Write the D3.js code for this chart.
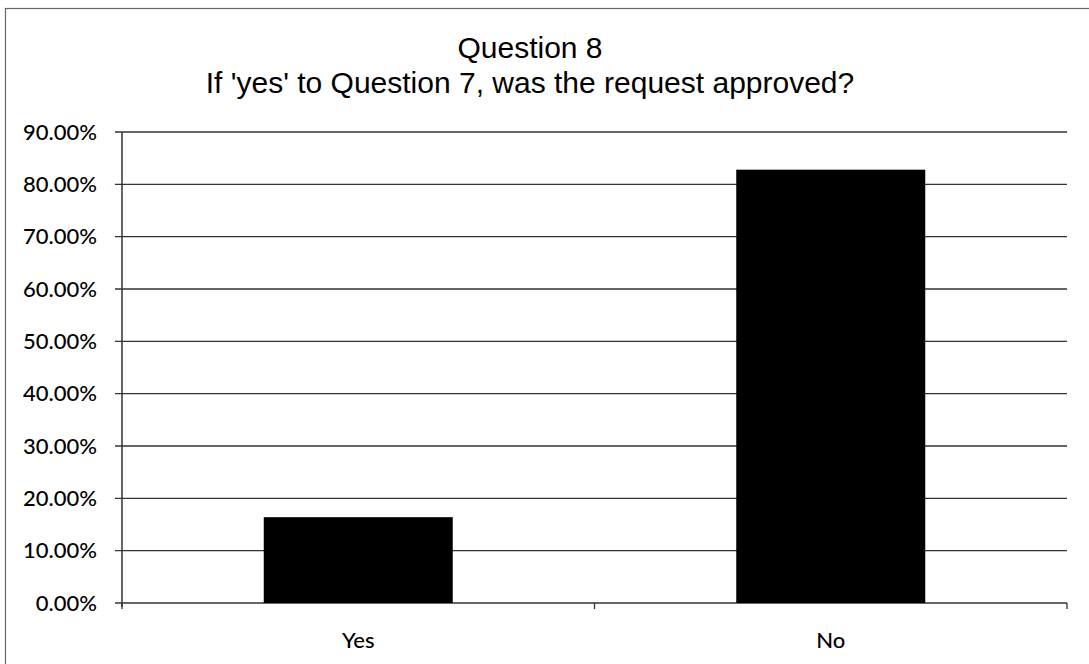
<!DOCTYPE html>
<html><head><meta charset="utf-8">
<script src="https://cdn.jsdelivr.net/npm/d3@7/dist/d3.min.js"></script>
<style>body{margin:0;background:#fff}</style>
</head><body>
<script>
const categories = ["Yes", "No"];
const values = [0.164, 0.828];
const yTicks = [0, 0.1, 0.2, 0.3, 0.4, 0.5, 0.6, 0.7, 0.8, 0.9];
const titleLines = ["Question 8", "If 'yes' to Question 7, was the request approved?"];

const W = 1089, H = 664;
const svg = d3.select("body").append("svg").attr("width", W).attr("height", H);
svg.append("rect").attr("x", 5.5).attr("y", 8.5).attr("width", W + 10).attr("height", H + 10)
  .attr("fill", "none").attr("stroke", "#666").attr("stroke-width", 1.2);

const m = {left: 122, right: 1067, top: 132, bottom: 603};
const x = d3.scaleBand().domain(categories).range([m.left, m.right]).paddingInner(0.6).paddingOuter(0.3);
const xEdge = d3.scaleBand().domain(categories).range([m.left, m.right]);
const y = d3.scaleLinear().domain([0, 0.9]).range([m.bottom, m.top]);

svg.append("g").selectAll("line").data(yTicks).join("line")
  .attr("x1", m.left - 7).attr("x2", m.right).attr("y1", d => y(d)).attr("y2", d => y(d))
  .attr("stroke", "#333").attr("stroke-width", 1.3);

svg.append("g").selectAll("rect").data(values).join("rect")
  .attr("x", (d, i) => x(categories[i])).attr("width", x.bandwidth())
  .attr("y", d => y(d)).attr("height", d => y(0) - y(d)).attr("fill", "#000");

svg.append("line").attr("x1", m.left).attr("x2", m.left).attr("y1", m.top).attr("y2", m.bottom + 4)
  .attr("stroke", "#333").attr("stroke-width", 1.5);
const xt = [m.left, xEdge(categories[1]), m.right];
svg.append("g").selectAll("line").data(xt).join("line")
  .attr("x1", d => d).attr("x2", d => d).attr("y1", m.bottom).attr("y2", m.bottom + 6)
  .attr("stroke", "#333").attr("stroke-width", 1.3);

svg.append("g").selectAll("text").data(yTicks).join("text")
  .attr("x", 97).attr("y", d => y(d)).attr("dy", "0.35em").attr("text-anchor", "end")
  .attr("font-family", "Lato, sans-serif").attr("font-size", 22).attr("font-weight", 500)
  .attr("fill", "#000").text(d => d3.format(".2%")(d));

svg.append("g").selectAll("text").data(categories).join("text")
  .attr("x", d => x(d) + x.bandwidth() / 2).attr("y", 648).attr("text-anchor", "middle")
  .attr("font-family", "Lato, sans-serif").attr("font-size", 22).attr("font-weight", 500)
  .attr("fill", "#000").text(d => d);

svg.append("g").selectAll("text").data(titleLines).join("text")
  .attr("x", 530).attr("y", (d, i) => 58 + i * 35).attr("text-anchor", "middle")
  .attr("font-family", "Liberation Sans, Arial, sans-serif").attr("font-size", 30)
  .attr("fill", "#000").text(d => d);
</script>
</body></html>
